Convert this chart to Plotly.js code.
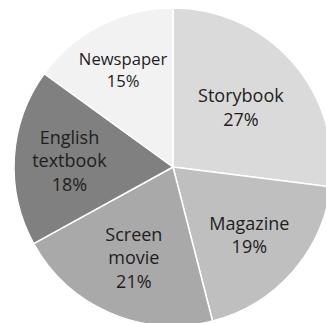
<!DOCTYPE html>
<html>
<head>
<meta charset="utf-8">
<script src="https://cdn.plot.ly/plotly-3.0.1.min.js"></script>
<style>
html,body{margin:0;padding:0;overflow:hidden;background:#fff;width:326px;height:323px;}
#chart{width:346px;height:334px;}
</style>
</head>
<body>
<div id="chart"></div>
<script>
const categories = ["Storybook", "Magazine", "Screen<br>movie", "English<br>textbook", "Newspaper"];
const shares = [27, 19, 21, 18, 15];
const sliceColors = ["#dadada", "#bfbfbf", "#a9a9a9", "#808080", "#f2f2f2"];

const trace = {
  type: "pie",
  labels: categories,
  values: shares,
  sort: false,
  direction: "clockwise",
  rotation: 0,
  textinfo: "label+percent",
  textposition: "inside",
  insidetextorientation: "horizontal",
  marker: { colors: sliceColors, line: { color: "#ffffff", width: 1.5 } },
  textfont: { family: "Open Sans, sans-serif", size: 18, color: "#1e1e1e" },
  hoverinfo: "none",
  showlegend: false
};

Plotly.newPlot("chart", [trace], {
  width: 346,
  height: 334,
  margin: { l: 14, r: 14, t: 8, b: 8 },
  paper_bgcolor: "#ffffff",
  showlegend: false
}, { staticPlot: true });
</script>
</body>
</html>
